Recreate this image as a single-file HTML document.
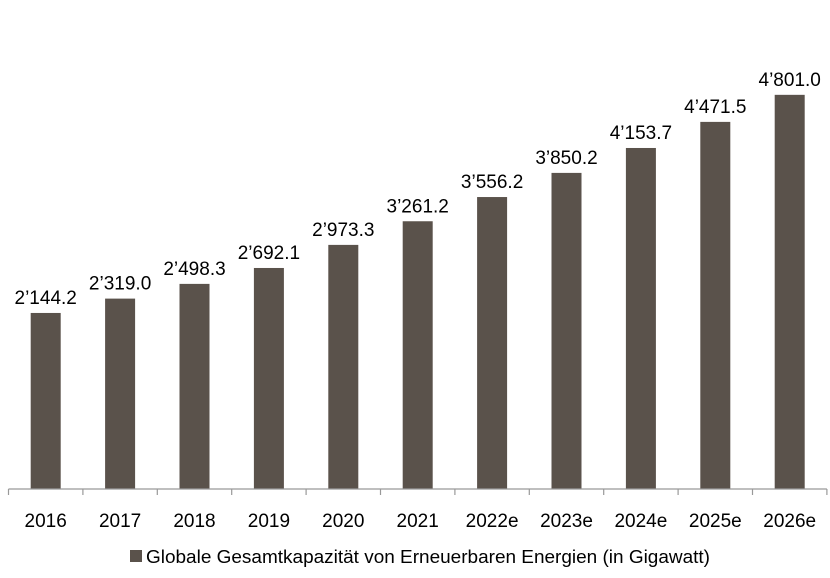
<!DOCTYPE html>
<html><head><meta charset="utf-8"><style>
body{margin:0;background:#fff;}
svg{display:block;font-family:"Liberation Sans",sans-serif;}
</style></head><body>
<svg id="chart" width="830" height="578" viewBox="0 0 830 578"></svg>
<script>
const categories=["2016","2017","2018","2019","2020","2021","2022e","2023e","2024e","2025e","2026e"];
const values=[2144.2,2319.0,2498.3,2692.1,2973.3,3261.2,3556.2,3850.2,4153.7,4471.5,4801.0];
const valueLabels=["2’144.2","2’319.0","2’498.3","2’692.1","2’973.3","3’261.2","3’556.2","3’850.2","4’153.7","4’471.5","4’801.0"];
const NS="http://www.w3.org/2000/svg";
const svg=document.getElementById('chart');
const x0=8.5,step=74.4,baseY=489,scale=0.0821,barW=30;
const xBand=i=>x0+i*step;
const yScale=v=>baseY-v*scale;
function mk(t,a){const e=document.createElementNS(NS,t);for(const k in a)e.setAttribute(k,a[k]);svg.appendChild(e);return e;}
categories.forEach((c,i)=>{
  const cx=xBand(i)+step/2;
  const r=mk('rect',{x:cx-barW/2,y:yScale(values[i]),width:barW,height:baseY-yScale(values[i]),fill:'#5a524b'});
  
  
  const t=mk('text',{x:cx,y:yScale(values[i])-9,'text-anchor':'middle','font-size':'19',fill:'#000'});
  t.textContent=valueLabels[i];
  
  
  const l=mk('text',{x:cx,y:527,'text-anchor':'middle','font-size':'19',fill:'#000'});
  l.textContent=c;
  
  
});
const ax=mk('line',{x1:x0,y1:baseY,x2:xBand(categories.length),y2:baseY,stroke:'#999','stroke-width':1.2});


for(let i=0;i<=categories.length;i++){
  const tk=mk('line',{x1:xBand(i),y1:baseY,x2:xBand(i),y2:baseY+6,stroke:'#999','stroke-width':1.2});
  
  
}
const ls=mk('rect',{x:130,y:550,width:12,height:12,fill:'#5a524b'});


const lt=mk('text',{x:146,y:563,'font-size':'18',fill:'#000',textLength:'564',lengthAdjust:'spacingAndGlyphs'});
lt.textContent="Globale Gesamtkapazität von Erneuerbaren Energien (in Gigawatt)";


</script>
</body></html>
